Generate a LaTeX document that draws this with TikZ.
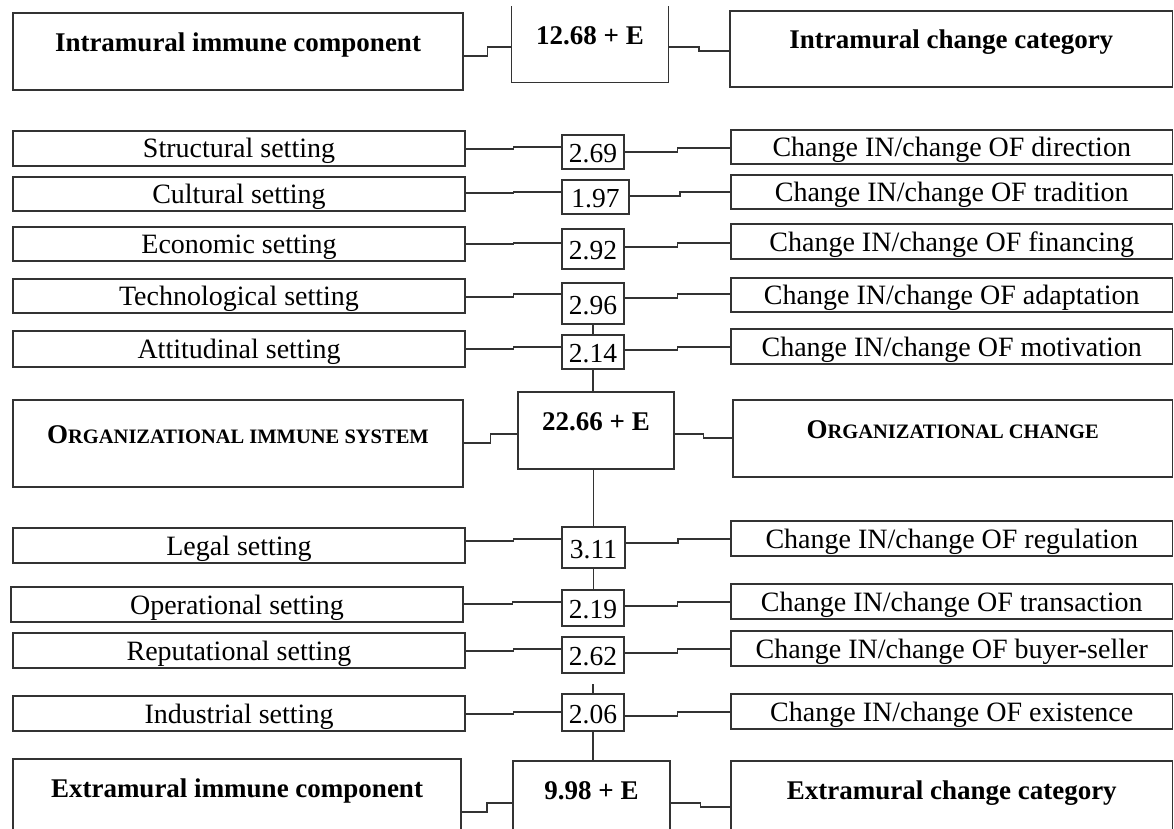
\documentclass[tikz,border=0pt]{standalone}
\usepackage{fontspec}
\setmainfont{Liberation Serif}
\usetikzlibrary{calc}

% small caps built from capitals: first letter full size, the rest smaller
\newcommand\fauxsc[2]{#1{\fontsize{20.5}{22}\selectfont #2}}

% stepped connector from the east side of #1 (at height #3) to the west side of #2 (at height #4)
\newcommand\stepwire[4]{%
  \path (0,#3) coordinate (ya) (0,#4) coordinate (yb);
  \draw[wire] (#1.east |- ya) -- ($(#1.east |- ya)!.5!(#2.west |- ya)$)
    -- ($(#1.east |- yb)!.5!(#2.west |- yb)$) -- (#2.west |- yb);}

\tikzset{
  wire/.style={draw=black!80, line width=1.1pt},
  frame/.style={draw=black!80, line width=1.1pt, rectangle, inner sep=0pt},
  rowbox/.style={frame, font=\fontsize{28}{30}\selectfont, text height=22pt, text depth=3pt},
  valbox/.style={frame, font=\fontsize{27.5}{30}\selectfont, text height=23pt, text depth=2pt},
  headbox/.style={frame, font=\fontsize{27}{30}\selectfont\bfseries, text height=20pt, text depth=20pt},
}

\begin{document}
\begin{tikzpicture}[x=1pt, y=-1pt]
\useasboundingbox[fill=white] (0,0) rectangle (1174,829);
\clip (0,0) rectangle (1174,829);

% ---- header row: intramural ----
\node[headbox, minimum width=450, minimum height=77] (IL) at (238,51.5) {Intramural immune component};
\node[headbox, draw=none, minimum width=156, minimum height=75] (IT) at (590,44.5) {12.68 + E};
\draw[wire] (IT.north west) -- (IT.south west) -- (IT.south east) -- (IT.north east);
\node[headbox, minimum width=442.5, minimum height=76] (IR) at (951.25,49) {Intramural change category};

% ---- intramural settings ----
\node[rowbox, minimum width=452, minimum height=35] (L1) at (239,148.5) {Structural setting};
\node[rowbox, minimum width=452, minimum height=34] (L2) at (239,194) {Cultural setting};
\node[rowbox, minimum width=452, minimum height=34] (L3) at (239,244) {Economic setting};
\node[rowbox, minimum width=452, minimum height=34] (L4) at (239,296) {Technological setting};
\node[rowbox, minimum width=452, minimum height=36] (L5) at (239,349) {Attitudinal setting};

\node[valbox, minimum width=62, minimum height=34] (C1) at (593,152) {2.69};
\node[valbox, minimum width=67, minimum height=34] (C2) at (595.5,197) {1.97};
\node[valbox, minimum width=62, minimum height=40] (C3) at (593,249) {2.92};
\node[valbox, minimum width=62, minimum height=41] (C4) at (593,303.5) {2.96};
\node[valbox, minimum width=62, minimum height=34] (C5) at (593,352) {2.14};

\node[rowbox, minimum width=441.5, minimum height=34] (R1) at (951.75,147) {Change IN/change OF direction};
\node[rowbox, minimum width=441.5, minimum height=34] (R2) at (951.75,192) {Change IN/change OF tradition};
\node[rowbox, minimum width=441.5, minimum height=35] (R3) at (951.75,241.5) {Change IN/change OF financing};
\node[rowbox, minimum width=441.5, minimum height=34] (R4) at (951.75,295) {Change IN/change OF adaptation};
\node[rowbox, minimum width=441.5, minimum height=35] (R5) at (951.75,346.5) {Change IN/change OF motivation};

% ---- central row ----
\node[headbox, minimum width=450, minimum height=87] (OL) at (238,443.5) {\fauxsc{O}{RGANIZATIONAL IMMUNE SYSTEM}};
\node[headbox, minimum width=156, minimum height=77] (OC) at (596,430.5) {22.66 + E};
\node[headbox, minimum width=439.5, minimum height=77] (OR) at (952.75,438.5) {\fauxsc{O}{RGANIZATIONAL CHANGE}};

% ---- extramural settings ----
\node[rowbox, minimum width=452, minimum height=35] (L6) at (239,545.5) {Legal setting};
\node[rowbox, minimum width=452, minimum height=35] (L7) at (237,604.5) {Operational setting};
\node[rowbox, minimum width=452, minimum height=35] (L8) at (239,650.5) {Reputational setting};
\node[rowbox, minimum width=452, minimum height=35] (L9) at (239,713.5) {Industrial setting};

\node[valbox, minimum width=63, minimum height=41] (C6) at (593.5,547.5) {3.11};
\node[valbox, minimum width=62, minimum height=36] (C7) at (593,608) {2.19};
\node[valbox, minimum width=62, minimum height=36] (C8) at (593,655) {2.62};
\node[valbox, minimum width=62, minimum height=37] (C9) at (593,712.5) {2.06};

\node[rowbox, minimum width=441.5, minimum height=35] (R6) at (951.75,538.5) {Change IN/change OF regulation};
\node[rowbox, minimum width=441.5, minimum height=35] (R7) at (951.75,601.5) {Change IN/change OF transaction};
\node[rowbox, minimum width=441.5, minimum height=35] (R8) at (951.75,648.5) {Change IN/change OF buyer-seller};
\node[rowbox, minimum width=441.5, minimum height=35] (R9) at (951.75,711.5) {Change IN/change OF existence};

% ---- footer row: extramural ----
\node[headbox, minimum width=448, minimum height=77] (EL) at (237,797.5) {Extramural immune component};
\node[headbox, minimum width=157, minimum height=77] (EC) at (591.5,799.5) {9.98 + E};
\node[headbox, minimum width=441.5, minimum height=77] (ER) at (951.75,799.5) {Extramural change category};

% ---- horizontal connectors ----
\stepwire{IL}{IT}{56}{47}   \stepwire{IT}{IR}{47}{51}
\stepwire{L1}{C1}{149}{147} \stepwire{C1}{R1}{152}{148}
\stepwire{L2}{C2}{193}{192} \stepwire{C2}{R2}{196}{192}
\stepwire{L3}{C3}{244}{243} \stepwire{C3}{R3}{247}{243}
\stepwire{L4}{C4}{297}{294} \stepwire{C4}{R4}{298}{294}
\stepwire{L5}{C5}{349}{347} \stepwire{C5}{R5}{350}{347}
\stepwire{OL}{OC}{443}{434} \stepwire{OC}{OR}{434}{438}
\stepwire{L6}{C6}{541}{539} \stepwire{C6}{R6}{543}{539}
\stepwire{L7}{C7}{604}{602} \stepwire{C7}{R7}{606}{602}
\stepwire{L8}{C8}{651}{649} \stepwire{C8}{R8}{653}{649}
\stepwire{L9}{C9}{714}{712} \stepwire{C9}{R9}{716}{712}
\stepwire{EL}{EC}{812}{803} \stepwire{EC}{ER}{803}{807}

% ---- vertical connectors ----
\draw[wire] (C4.south) -- (C5.north);
\draw[wire] (C5.south) -- (C5.south |- OC.north);
\draw[wire] (C6.north |- OC.south) -- (C6.north);
\draw[wire] (C6.south) -- (C6.south |- C7.north);
\coordinate (tick) at ($(C9.north)+(0,-9)$);
\draw[wire] (tick) -- (C9.north);
\draw[wire] (C9.south) -- (C9.south |- EC.north);
\end{tikzpicture}
\end{document}
